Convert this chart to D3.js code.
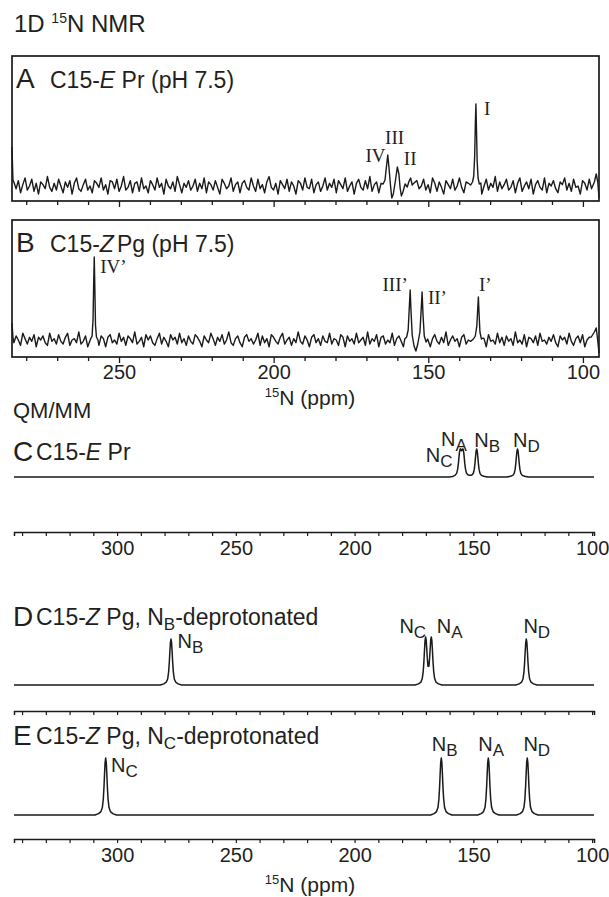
<!DOCTYPE html>
<html>
<head>
<meta charset="utf-8">
<script src="https://cdn.jsdelivr.net/npm/d3@7"></script>
<style>
  body { margin: 0; background: #fff; }
  svg text { font-family: "Liberation Sans", Arial, sans-serif; fill: #231f20; }
  svg .roman { font-family: "Liberation Serif", "Times New Roman", serif; }
</style>
</head>
<body>
<svg id="chart" width="609" height="897"></svg>
<script>
// ---------- datos ----------
// ventanas en ppm
const expDomain = [284.6, 94.8];
const calcDomain = [343.4, 99.2];
const tickValuesExp = d3.range(280, 94, -10);
const tickValuesCalc = d3.range(340, 99, -10);

// ruido de línea base (A, B), muestreado de 284.0 a 96.5 ppm
const noiseFrom = 284.0, noiseTo = 96.5;
const noiseA = [
  3,-2,4,-5,1,6,-3,0,5,-4,2,-6,3,1,-2,7,-1,-4,2,-3,
  5,0,-5,3,-1,4,-6,2,6,-2,-4,1,5,-3,0,-5,4,2,-1,6,
  -3,1,-6,4,3,-2,5,-4,0,7,-3,-1,4,-5,2,3,-4,6,-2,0,
  -5,4,1,-3,6,-1,2,-6,5,0,-2,3,-4,7,1,-5,2,-1,4,-3,
  0,5,-4,2,-2,6,-5,3,1,-3,4,-1,-6,5,2,-2,0,6,-4,1,
  3,-5,2,4,-1,-3,6,0,-4,5,-2,1,-5,3,7,-1,-3,2,-6,4,
  1,-2,5,-4,3,0,-6,4,2,-3,6,-1,-2,5,-5,1,3,-4,0,6,
  -3,2,-1,5,-5,4,1,-2,6,-4,0,3,-6,2,5,-1,-3,4,-2,7,
  -4,1,3,-5,2,6,-2,-1,4,-6,3,0,5,-3,1,-4,6,-1,2,-5,
  4,-2,0,5,-3,1,-5,6,2,-4,3,-1,-6,4,1,-2,5,-3,0,6,
  -1,-5,3,2,-4,6,-2,1,4,-6,0,5,-3,2,-1,7,-4,3,-2,1,
  5,-3,-1,4,-5,2,6,-4,0,3,-2,5,-6,1,4,-1,-3,6,-5,2,
  0,4,-2,-5,3,1,6,-3,2,-4,5,-1,0,-6,4,2,-3,5,-2,1
];
const noiseB = [
  -2,3,0,-4,5,1,-3,2,-1,4,-5,2,0,3,-2,-4,5,-1,1,-3,
  4,-1,-3,2,5,-4,0,1,-2,6,-3,-1,3,-5,2,0,4,-2,-4,3,
  1,-5,2,4,-2,0,-3,5,-1,2,-4,3,1,-2,6,-3,-1,2,-5,4,
  0,3,-2,-4,1,5,-3,2,-1,-5,4,0,2,-3,5,-2,1,-4,3,-1,
  -3,4,2,-1,-5,3,0,-2,5,1,-4,2,-1,4,-3,0,6,-2,-4,1,
  3,-2,-5,2,4,-1,1,-3,0,5,-4,3,-2,1,-5,4,2,-1,-3,2,
  5,-3,0,2,-4,1,-2,6,-1,-3,3,0,-5,2,4,-2,1,-4,3,-1,
  -2,5,-3,1,0,-4,4,2,-5,3,-1,1,-3,5,-2,0,2,-4,6,-3,
  1,-1,4,-5,2,3,-3,0,-2,5,-4,1,3,-1,-5,4,0,2,-3,1,
  -4,2,5,-2,0,3,-5,1,4,-1,-3,2,-2,6,-4,0,3,-1,1,-5,
  2,4,-3,0,-1,5,-4,2,-2,3,1,-5,4,-1,0,-3,5,-2,2,-4,
  3,-1,1,-4,6,-2,0,-3,4,-5,2,1,-2,3,-4,5,-1,0,-3,2,
  -1,4,-2,-5,3,0,2,-3,5,-1,-4,1,3,-2,4,-5,0,2,-1,3
];

// trazas leídas alrededor de cada señal: [ppm, intensidad sobre la línea base]
const featuresA = [
  [[284.6, 39], [284.3, 6]],
  [[164.6, 2], [164.0, 6], [163.5, 20], [163.1, 31], [162.7, 18], [162.2, 0], [161.8, -12], [161.3, -8],
   [160.6, 6], [160.0, 19], [159.5, 12], [159.1, -2], [158.7, -10], [158.2, -6], [157.5, 2], [156.8, -1],
   [156.2, 5], [155.7, 8], [155.2, 1], [154.6, 3]],
  [[136.3, 1], [135.7, 4], [135.3, 10], [135.0, 30], [134.8, 60], [134.6, 82], [134.4, 55], [134.2, 25],
   [133.9, 8], [133.5, 2], [133.0, 3]],
  [[96.3, 4], [95.7, 12], [95.2, 4], [94.8, -12]]
];
const featuresB = [
  [[284.6, 17], [284.3, 3]],
  [[259.2, 1], [258.7, 4], [258.4, 20], [258.2, 55], [258.0, 83], [257.8, 50], [257.6, 15], [257.3, 3], [256.8, 0]],
  [[157.6, 1], [157.0, 3], [156.5, 10], [156.1, 35], [155.85, 50], [155.6, 30], [155.2, 5], [154.6, -6],
   [154.0, -11], [153.4, -4], [152.7, 8], [152.3, 30], [152.0, 48], [151.7, 25], [151.3, 4], [150.7, -2], [150.2, 1]],
  [[135.4, 1], [134.8, 4], [134.3, 14], [134.0, 32], [133.8, 43], [133.6, 28], [133.3, 8], [132.8, 1], [132.3, 2]],
  [[97.3, 3], [96.3, 8], [95.7, 12], [95.3, 2], [94.8, -13]]
];
// etiquetas: [texto, ppm, intensidad]
const labelsA = [["IV", 163.8, 24], ["III", 160.9, 42], ["II", 157.9, 21], ["I", 132.0, 71]];
const labelsB = [["IV\u2019", 256.1, 67], ["III\u2019", 156.6, 49], ["II\u2019", 150.1, 36], ["I\u2019", 133.6, 49]];

// QM/MM: desplazamientos calculados (ppm) y alturas relativas
const nucleiC = ["C", "A", "B", "D"];
const shiftsC = [155.6, 154.3, 148.6, 131.4];
const heightsC = [0.85, 0.85, 1, 1];
const labelAtC = [[164.4, 0.55], [158.2, 1.12], [144.2, 1.06], [127.7, 1.06]];

const nucleiD = ["B", "C", "A", "D"];
const shiftsD = [277.3, 170.1, 167.7, 127.7];
const heightsD = [1, 1, 1, 1];
const labelAtD = [[269.1, 0.8], [175.5, 1.14], [160.0, 1.14], [123.3, 1.14]];

const nucleiE = ["C", "B", "A", "D"];
const shiftsE = [304.8, 163.5, 143.7, 127.3];
const heightsE = [1, 1, 1, 1];
const labelAtE = [[296.9, 0.75], [162.1, 1.12], [142.5, 1.12], [123.3, 1.12]];

// forma de línea: [desplazamiento ppm, fracción]
const lineshape = [[0, 1], [0.25, 0.92], [0.5, 0.7], [0.7, 0.5], [1.0, 0.28], [1.4, 0.13], [2.0, 0.06], [3.0, 0.025], [4.5, 0]];

// ---------- dibujo ----------
const svg = d3.select("#chart");
const ink = "#1a1a1a";
const noiseGain = 1.35;

const xExp = d3.scaleLinear().domain(expDomain).range([12, 599]);
const xCalc = d3.scaleLinear().domain(calcDomain).range([14, 594]);

svg.append("text").attr("x", 14).attr("y", 32).style("font-size", "24px")
  .call(t => {
    t.append("tspan").text("1D ");
    t.append("tspan").attr("dy", -9).style("font-size", "14px").text("15");
    t.append("tspan").attr("dy", 9).text("N NMR");
  });

function buildTrace(noise, features) {
  const step = (noiseFrom - noiseTo) / (noise.length - 1);
  const windows = features.map(f => d3.extent(f, p => p[0]));
  const pts = [];
  noise.forEach((v, i) => {
    const ppm = noiseFrom - i * step;
    if (!windows.some(w => ppm >= w[0] - 0.2 && ppm <= w[1] + 0.2)) pts.push([ppm, v * noiseGain]);
  });
  features.forEach(f => f.forEach(p => pts.push(p)));
  return pts.sort((a, b) => b[0] - a[0]);
}

function expPanel(cfg) {
  const y = d3.scaleLinear().domain([0, 1]).range([cfg.base, cfg.base - 1]);
  const g = svg.append("g");

  const line = d3.line().x(d => xExp(d[0])).y(d => y(d[1]));
  g.append("path")
    .datum(buildTrace(cfg.noise, cfg.features))
    .attr("d", line)
    .attr("fill", "none")
    .attr("stroke", ink)
    .attr("stroke-width", 1.4)
    .attr("stroke-linejoin", "round");

  g.append("rect")
    .attr("x", xExp.range()[0]).attr("y", cfg.top)
    .attr("width", xExp.range()[1] - xExp.range()[0]).attr("height", cfg.bottom - cfg.top)
    .attr("fill", "none").attr("stroke", ink).attr("stroke-width", 1.7);

  const axis = d3.axisBottom(xExp).tickValues(tickValuesExp).tickSize(4).tickSizeOuter(0)
    .tickFormat(d => (cfg.labels && d % 50 === 0) ? d : "");
  const ax = g.append("g").attr("transform", `translate(0,${cfg.bottom})`).call(axis);
  ax.select(".domain").remove();
  ax.selectAll(".tick line").attr("stroke", ink).attr("stroke-width", 1.3)
    .attr("y2", d => d % 50 === 0 ? 6 : 4);
  ax.selectAll(".tick text").attr("y", 8).style("font-size", "20px")
    .style("font-family", '"Liberation Sans", Arial, sans-serif').attr("fill", "#231f20");

  g.append("text").attr("x", 16).attr("y", cfg.top + 32).style("font-size", "28px").text(cfg.letter);
  g.append("text").attr("x", 50).attr("y", cfg.top + 32).style("font-size", "23px")
    .call(t => {
      t.append("tspan").text("C15-");
      t.append("tspan").style("font-style", "italic").text(cfg.isomer);
      t.append("tspan").attr("dx", cfg.gap).text(cfg.rest);
    });

  g.selectAll(".pk").data(cfg.peakLabels).enter().append("text")
    .attr("class", "roman")
    .attr("x", d => xExp(d[1])).attr("y", d => y(d[2]))
    .attr("text-anchor", (d, i) => cfg.anchors[i])
    .style("font-size", "19px")
    .text(d => d[0]);
}

expPanel({ top: 56, bottom: 201, base: 186, noise: noiseA, features: featuresA, letter: "A",
  isomer: "E", rest: " Pr (pH 7.5)", gap: 0, peakLabels: labelsA, anchors: ["end", "middle", "start", "start"], labels: false });
expPanel({ top: 220, bottom: 357, base: 340, noise: noiseB, features: featuresB, letter: "B",
  isomer: "Z", rest: "Pg (pH 7.5)", gap: 3, peakLabels: labelsB, anchors: ["start", "end", "start", "start"], labels: true });

function axisTitle(cx, baseline) {
  svg.append("text").attr("x", cx).attr("y", baseline).attr("text-anchor", "middle").style("font-size", "21px")
    .call(t => {
      t.append("tspan").attr("dy", -8).style("font-size", "13px").text("15");
      t.append("tspan").attr("dy", 8).text("N (ppm)");
    });
}
axisTitle(310, 405);

svg.append("text").attr("x", 13).attr("y", 418).style("font-size", "22px").text("QM/MM");

const shape = d3.scaleLinear().domain(lineshape.map(d => d[0])).range(lineshape.map(d => d[1])).clamp(true);
function calcTrace(shifts, heights) {
  const xs = new Set(calcDomain);
  shifts.forEach(c => lineshape.forEach(([o]) => { xs.add(c - o); xs.add(c + o); }));
  return Array.from(xs).sort((a, b) => b - a)
    .map(p => [p, d3.sum(shifts, (c, i) => heights[i] * shape(Math.abs(p - c)))]);
}

function calcPanel(cfg) {
  const y = d3.scaleLinear().domain([0, 1]).range([cfg.base, cfg.base - cfg.h]);
  const g = svg.append("g");

  g.append("path")
    .datum(calcTrace(cfg.shifts, cfg.heights))
    .attr("d", d3.line().x(d => xCalc(d[0])).y(d => y(d[1])))
    .attr("fill", "none").attr("stroke", ink).attr("stroke-width", 1.5).attr("stroke-linejoin", "round");

  const axis = d3.axisBottom(xCalc).tickValues(tickValuesCalc).tickSize(4).tickSizeOuter(4)
    .tickFormat(d => (cfg.labels && d % 50 === 0) ? d : "");
  const ax = g.append("g").attr("transform", `translate(0,${cfg.axis})`).call(axis);
  ax.select(".domain").attr("stroke", ink).attr("stroke-width", 1.5);
  ax.selectAll(".tick line").attr("stroke", ink).attr("stroke-width", 1.2);
  ax.selectAll(".tick text").attr("y", 9).style("font-size", "20px")
    .style("font-family", '"Liberation Sans", Arial, sans-serif').attr("fill", "#231f20");

  g.append("text").attr("x", 13).attr("y", cfg.titleY + 1).style("font-size", "28px").text(cfg.letter);
  g.append("text").attr("x", 36).attr("y", cfg.titleY).style("font-size", "23px")
    .call(t => {
      t.append("tspan").text("C15-");
      t.append("tspan").style("font-style", "italic").text(cfg.isomer);
      t.append("tspan").text(cfg.rest);
      if (cfg.sub) {
        t.append("tspan").attr("dy", 5).style("font-size", "17px").text(cfg.sub);
        t.append("tspan").attr("dy", -5).text("-deprotonated");
      }
    });

  g.selectAll(".nl").data(cfg.nuclei).enter().append("text")
    .attr("x", (d, i) => xCalc(cfg.labelAt[i][0]))
    .attr("y", (d, i) => y(cfg.labelAt[i][1]))
    .attr("text-anchor", "middle")
    .style("font-size", "20px")
    .call(t => {
      t.append("tspan").text("N");
      t.append("tspan").attr("dy", 5).style("font-size", "17px").text(d => d);
    });
}

calcPanel({ base: 477, h: 28, axis: 532, titleY: 460, letter: "C", isomer: "E", rest: " Pr",
  shifts: shiftsC, heights: heightsC, nuclei: nucleiC, labelAt: labelAtC, labels: true });
calcPanel({ base: 685, h: 46, axis: 711, titleY: 625, letter: "D", isomer: "Z", rest: " Pg, N", sub: "B",
  shifts: shiftsD, heights: heightsD, nuclei: nucleiD, labelAt: labelAtD, labels: false });
calcPanel({ base: 815, h: 57, axis: 839, titleY: 744, letter: "E", isomer: "Z", rest: " Pg, N", sub: "C",
  shifts: shiftsE, heights: heightsE, nuclei: nucleiE, labelAt: labelAtE, labels: true });

axisTitle(310, 892);
</script>
</body>
</html>
